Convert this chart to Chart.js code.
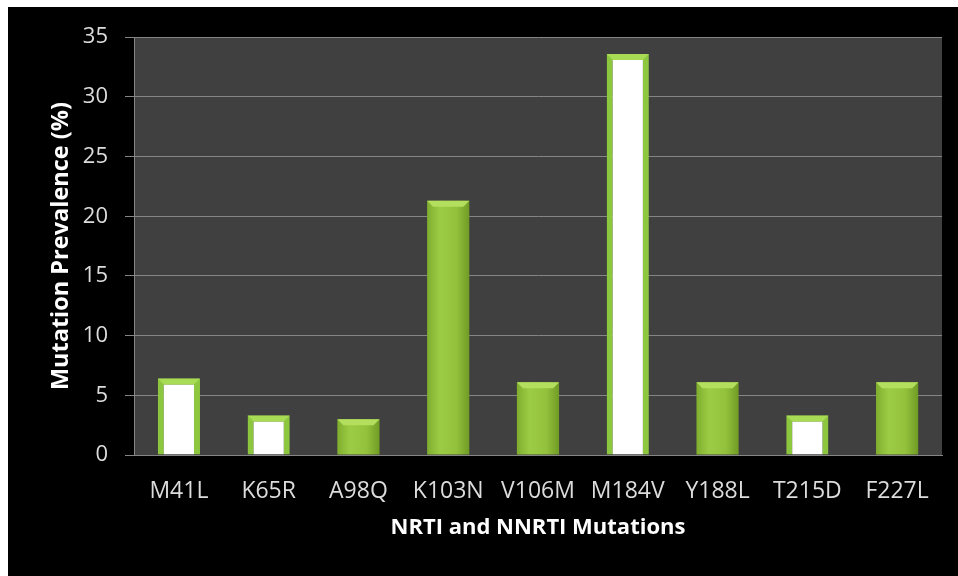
<!DOCTYPE html>
<html lang="en">
<head>
<meta charset="UTF-8">
<title>Mutation Prevalence</title>
<script src="https://cdn.jsdelivr.net/npm/chart.js"></script>
<style>
    html, body {
        margin: 0;
        padding: 0;
        background: #ffffff;
        width: 958px;
        height: 576px;
        overflow: hidden;
    }
    #box {
        position: absolute;
        left: 8px;
        top: 7px;
        width: 950px;
        height: 569px;
        background: #000000;
    }
</style>
</head>
<body>

<div id="box"><canvas id="mutationChart"></canvas></div>

<script>
// data
var mutations = ['M41L', 'K65R', 'A98Q', 'K103N', 'V106M', 'M184V', 'Y188L', 'T215D', 'F227L'];
var prevalence = [6.4, 3.3, 3.0, 21.3, 6.1, 33.6, 6.1, 3.3, 6.1];
// hollow (white filled) bars
var hollow = [true, true, false, false, false, true, false, true, false];
var yTicks = [0, 5, 10, 15, 20, 25, 30, 35];

var FONT = "'Open Sans', 'DejaVu Sans', sans-serif";
var GREEN = '#8dc63f';
var GRID = '#858585';
var BAR_PCT = 0.47;

function barFill(ctx) {
    var chart = ctx.chart;
    var i = ctx.dataIndex;
    if (hollow[i]) return '#ffffff';
    var xs = chart.scales.x;
    if (!xs || !chart.chartArea) return '#92c33c';
    var cx = xs.getPixelForValue(i);
    var half = (chart.chartArea.width / mutations.length) * BAR_PCT / 2;
    var g = chart.ctx.createLinearGradient(cx - half, 0, cx + half, 0);
    g.addColorStop(0, '#7fae2e');
    g.addColorStop(0.3, '#9ccc45');
    g.addColorStop(0.7, '#93c13c');
    g.addColorStop(1, '#6f9b24');
    return g;
}

// dark plot background
var plotBackground = {
    id: 'plotBackground',
    beforeDraw: function (chart) {
        var a = chart.chartArea;
        var c = chart.ctx;
        c.save();
        c.fillStyle = '#404040';
        c.fillRect(a.left, a.top, a.width, a.height);
        c.restore();
    }
};

// light bevel on top of each bar
var bevelTop = {
    id: 'bevelTop',
    afterDatasetsDraw: function (chart) {
        var meta = chart.getDatasetMeta(0);
        var c = chart.ctx;
        c.save();
        meta.data.forEach(function (bar, i) {
            var p = bar.getProps(['x', 'y', 'width'], true);
            var l = p.x - p.width / 2;
            var r = p.x + p.width / 2;
            var b = 6;
            c.beginPath();
            c.moveTo(l, p.y);
            c.lineTo(r, p.y);
            c.lineTo(r - b, p.y + b);
            c.lineTo(l + b, p.y + b);
            c.closePath();
            c.fillStyle = hollow[i] ? '#a8dc55' : '#b4df5e';
            c.fill();
        });
        c.restore();
    }
};

var ctx = document.getElementById('mutationChart').getContext('2d');
var mutationChart = new Chart(ctx, {
    type: 'bar',
    data: {
        labels: mutations,
        datasets: [{
            data: prevalence,
            backgroundColor: barFill,
            borderColor: function (c) { return hollow[c.dataIndex] ? GREEN : 'rgba(0,0,0,0)'; },
            borderWidth: function (c) { return hollow[c.dataIndex] ? 6 : 0; },
            borderSkipped: 'bottom',
            barPercentage: BAR_PCT,
            categoryPercentage: 1
        }]
    },
    options: {
        responsive: true,
        maintainAspectRatio: false,
        animation: false,
        layout: {
            padding: { left: 0, top: 30, right: 16, bottom: 0 }
        },
        plugins: {
            legend: { display: false },
            tooltip: { enabled: false }
        },
        scales: {
            x: {
                grid: { display: false },
                border: { display: true, color: GRID },
                ticks: {
                    color: '#dcdcdc',
                    font: { family: FONT, size: 23 },
                    padding: 15,
                    maxRotation: 0
                },
                title: {
                    display: true,
                    text: 'NRTI and NNRTI Mutations',
                    color: '#ffffff',
                    font: { family: FONT, size: 22, weight: 'bold' },
                    padding: { top: 0, bottom: 35 }
                },
                afterFit: function (scale) { scale.height = 121; }
            },
            y: {
                min: 0,
                max: 35,
                afterBuildTicks: function (scale) {
                    scale.ticks = yTicks.map(function (v) { return { value: v }; });
                },
                grid: { color: GRID, tickColor: GRID, tickLength: 9 },
                border: { display: true, color: GRID },
                ticks: {
                    color: '#dcdcdc',
                    font: { family: FONT, size: 22 },
                    padding: 17
                },
                title: {
                    display: true,
                    text: 'Mutation Prevalence (%)',
                    color: '#ffffff',
                    font: { family: FONT, size: 23.5, weight: 'bold' },
                    padding: { top: 39, bottom: 0 }
                },
                afterFit: function (scale) { scale.width = 126; }
            }
        }
    },
    plugins: [plotBackground, bevelTop]
});
</script>

</body>
</html>
